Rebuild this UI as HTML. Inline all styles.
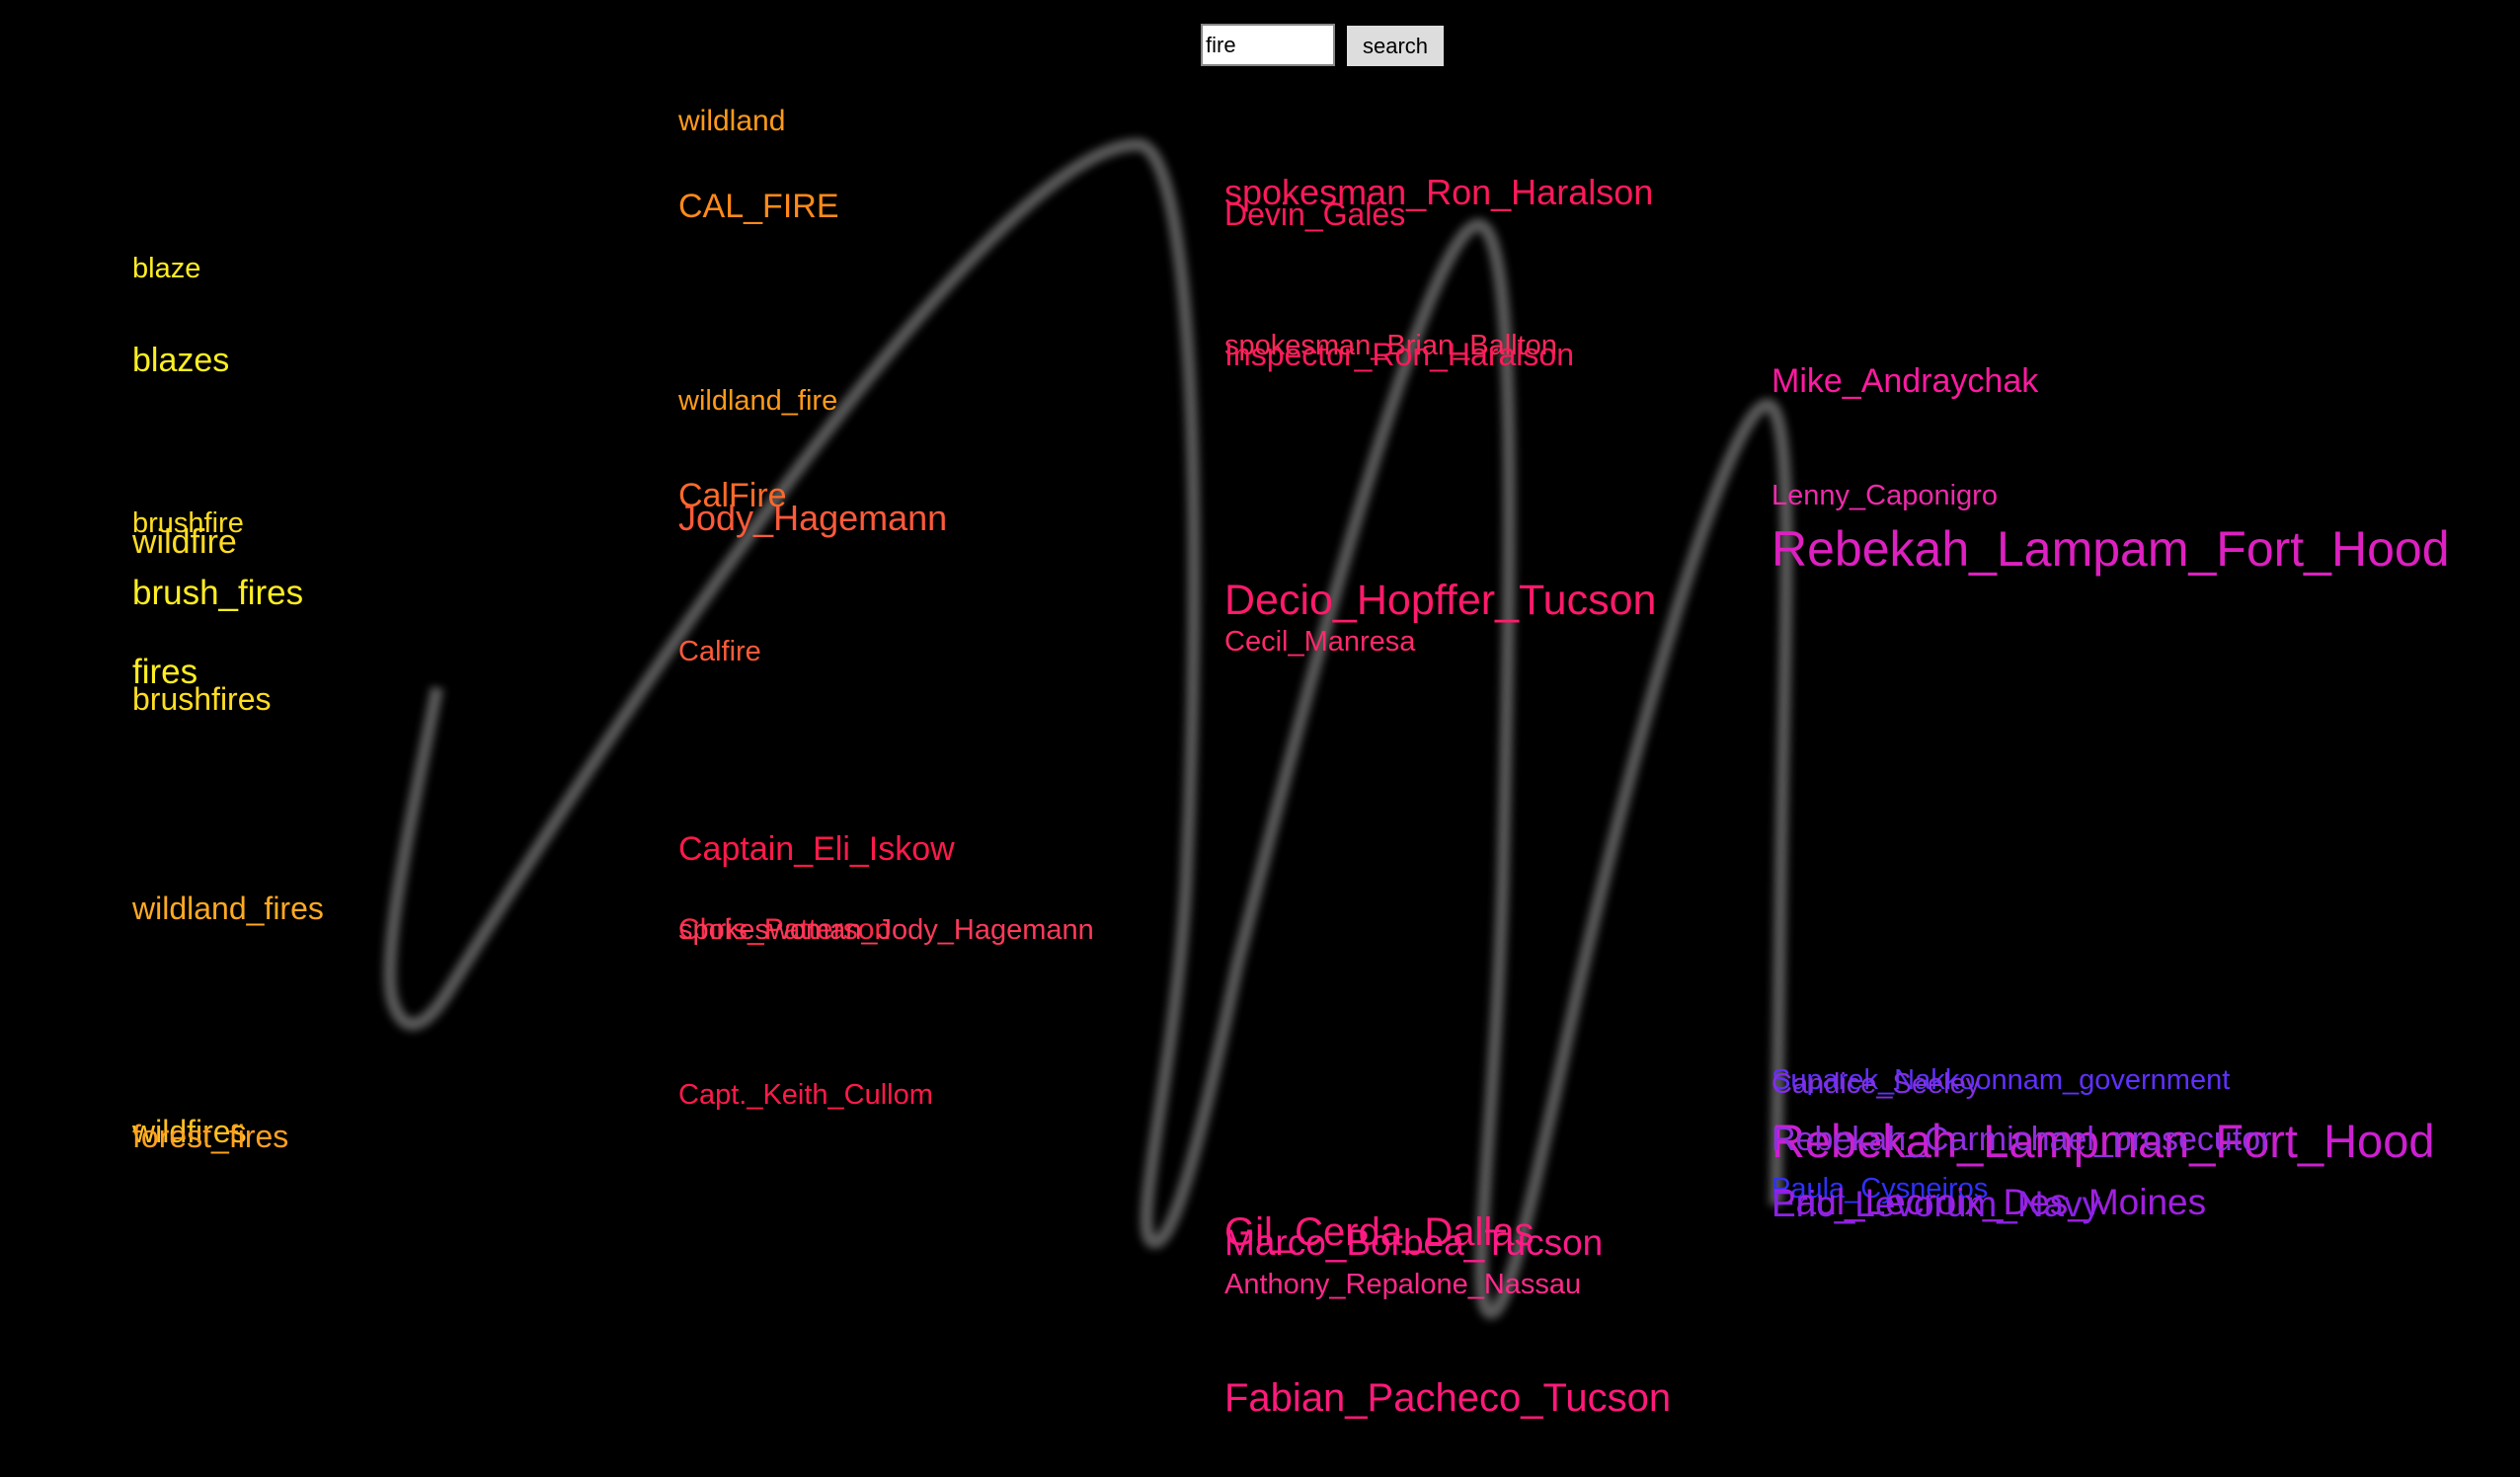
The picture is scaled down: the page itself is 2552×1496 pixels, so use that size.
<!DOCTYPE html>
<html><head><meta charset="utf-8"><style>
html,body{margin:0;padding:0;background:#000;width:2552px;height:1496px;overflow:hidden}
svg{position:absolute;left:0;top:0}
text{font-family:"Liberation Sans",Arial,sans-serif}
.inp{position:absolute;left:1216px;top:24px;width:136px;height:43px;background:#fff;border:2px solid #888;box-sizing:border-box;font:22px "Liberation Sans",sans-serif;color:#000;padding:7px 3px;line-height:26px}
.btn{position:absolute;left:1364px;top:26px;width:98px;height:41px;background:#ddd;font:22px "Liberation Sans",sans-serif;color:#000;text-align:center;line-height:41px}
</style></head><body>
<svg width="2552" height="1496" viewBox="0 0 2552 1496">
<defs><filter id="b" x="-10%" y="-10%" width="120%" height="120%"><feGaussianBlur stdDeviation="2.6"/></filter></defs>
<g transform="scale(1.6276)">
<path d="M272,428 C258,500 235,600 245,625 C252,645 265,640 280,615 C400,420 620,90 708,90 C745,90 748,350 738,550 C732,660 705,760 716,772 C728,782 745,720 770,600 C820,400 890,140 920,140 C945,140 940,350 935,550 C930,700 915,800 925,815 C935,830 950,760 970,670 C1010,480 1075,250 1100,252 C1118,254 1110,400 1108,550 C1106,650 1105,720 1105,750" fill="none" stroke="#5a5a5a" stroke-width="8" filter="url(#b)"/>
</g>
<g font-size="30">
<text x="134" y="281" fill="#ffee22" font-size="29">blaze</text>
<text x="134" y="376" fill="#ffee22" font-size="34">blazes</text>
<text x="134" y="539" fill="#ffdd22" font-size="29">brushfire</text>
<text x="134" y="560" fill="#ffdd22" font-size="34">wildfire</text>
<text x="134" y="612" fill="#ffee22" font-size="35">brush_fires</text>
<text x="134" y="692" fill="#ffee22" font-size="35">fires</text>
<text x="134" y="719" fill="#ffdd22" font-size="32">brushfires</text>
<text x="134" y="931" fill="#ffaa22" font-size="32">wildland_fires</text>
<text x="134" y="1157" fill="#ffc020" font-size="32">wildfires</text>
<text x="134" y="1162" fill="#ffa020" font-size="32">forest_fires</text>

<text x="687" y="132" fill="#ff9a1a" font-size="30">wildland</text>
<text x="687" y="220" fill="#ff8a1a" font-size="34">CAL_FIRE</text>
<text x="687" y="415" fill="#ff9a1a" font-size="29">wildland_fire</text>
<text x="687" y="513" fill="#ff6a2a" font-size="34">CalFire</text>
<text x="687" y="537" fill="#ff5a3a" font-size="36">Jody_Hagemann</text>
<text x="687" y="669" fill="#ff5a3a" font-size="29">Calfire</text>
<text x="687" y="871" fill="#ff1a4a" font-size="34">Captain_Eli_Iskow</text>
<text x="687" y="951" fill="#ff2a4a" font-size="30">Chris_Patterson</text>
<text x="687" y="951" fill="#ff3a5a" font-size="29">spokeswoman_Jody_Hagemann</text>
<text x="687" y="1118" fill="#ff1a4a" font-size="29">Capt._Keith_Cullom</text>

<text x="1240" y="207" fill="#ff1a5a" font-size="36">spokesman_Ron_Haralson</text>
<text x="1240" y="228" fill="#ff1a5a" font-size="32">Devin_Gales</text>
<text x="1240" y="359" fill="#ff2a5a" font-size="29">spokesman_Brian_Ballton</text>
<text x="1240" y="370" fill="#ff1a5a" font-size="32">Inspector_Ron_Haralson</text>
<text x="1240" y="622" fill="#ff1a6a" font-size="43">Decio_Hopffer_Tucson</text>
<text x="1240" y="659" fill="#ff2a6a" font-size="29">Cecil_Manresa</text>
<text x="1240" y="1261" fill="#ff1a7a" font-size="40">Gil_Cerda_Dallas</text>
<text x="1240" y="1271" fill="#ff1a8a" font-size="37">Marco_Borbea_Tucson</text>
<text x="1240" y="1310" fill="#ff2a8a" font-size="29">Anthony_Repalone_Nassau</text>
<text x="1240" y="1429" fill="#ff1a7a" font-size="40">Fabian_Pacheco_Tucson</text>

<text x="1794" y="397" fill="#ff1aa0" font-size="34">Mike_Andraychak</text>
<text x="1794" y="511" fill="#ee2aaa" font-size="29">Lenny_Caponigro</text>
<text x="1794" y="573" fill="#dd20c0" font-size="50">Rebekah_Lampam_Fort_Hood</text>
<text x="1794" y="1103" fill="#6030ff" font-size="29">Suparek_Nakkoonnam_government</text>
<text x="1794" y="1107" fill="#8030e0" font-size="29">Candice_Seeley</text>
<text x="1794" y="1172" fill="#cc20d0" font-size="47">Rebekah_Lampman_Fort_Hood</text>
<text x="1794" y="1165" fill="#9030e0" font-size="34">Rebekah_Carmichael_prosecutor</text>
<text x="1794" y="1213" fill="#3030ff" font-size="29">Paula_Cysneiros</text>
<text x="1794" y="1230" fill="#a020e0" font-size="37">Paul_Lecroix_Des_Moines</text>
<text x="1794" y="1232" fill="#8a22e6" font-size="37">Eric_Levorum_Navy</text>
</g>
</svg>
<div class="inp">fire</div>
<div class="btn">search</div>
</body></html>
